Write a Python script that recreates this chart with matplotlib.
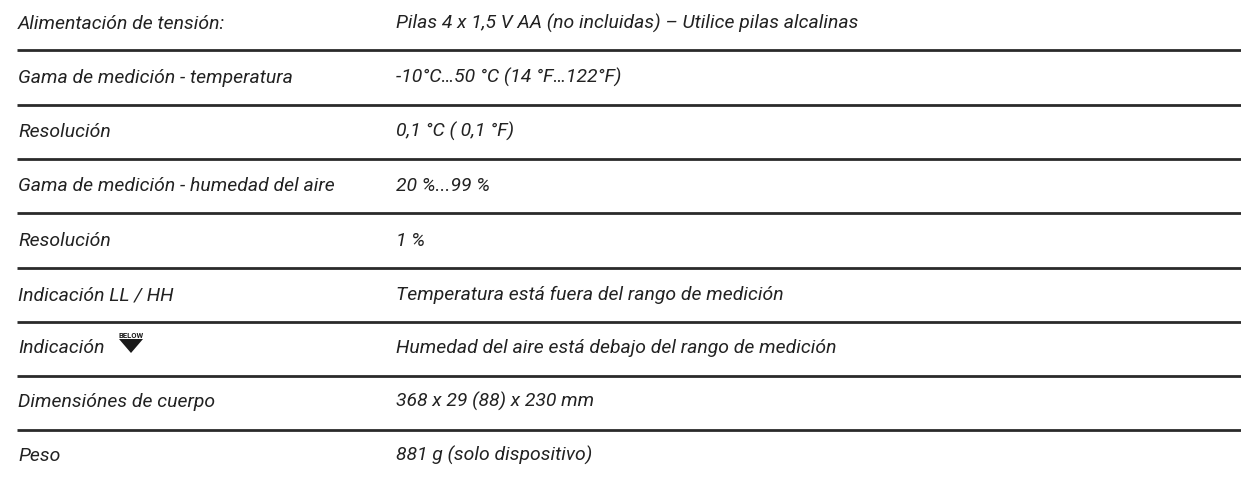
import matplotlib
matplotlib.use("Agg")
import matplotlib.pyplot as plt

labels = ["Alimentación de tensión:", "Gama de medición - temperatura", "Resolución",
          "Gama de medición - humedad del aire", "Resolución", "Indicación LL / HH",
          "Indicación", "Dimensiónes de cuerpo", "Peso"]
values = ["Pilas 4 x 1,5 V AA (no incluidas) – Utilice pilas alcalinas",
          "-10°C…50 °C (14 °F…122°F)", "0,1 °C ( 0,1 °F)", "20 %...99 %", "1 %",
          "Temperatura está fuera del rango de medición",
          "Humedad del aire está debajo del rango de medición",
          "368 x 29 (88) x 230 mm", "881 g (solo dispositivo)"]
baselines = [29, 83, 137, 191, 246, 300, 353, 407, 461]
rule_y = [50, 104.5, 159, 213, 268, 321.5, 376, 430]

fig = plt.figure(figsize=(12.41, 4.8), dpi=100)
ax = fig.add_axes([0, 0, 1, 1])
ax.set_xlim(0, 1241)
ax.set_ylim(480, 0)
ax.axis("off")
style = dict(family="Roboto", style="italic", fontsize=13.95, color="#222222", va="baseline")
for y, a, b in zip(baselines, labels, values):
    ax.text(18, y, a, **style)
    ax.text(396, y, b, **style)
for y in rule_y:
    ax.plot([17, 1241], [y, y], color="#2a2a2a", lw=2.0, solid_capstyle="butt")
ax.text(131, 335, "BELOW", family="Roboto", weight="bold", fontsize=5.5, ha="center", va="center", color="#1a1a1a")
ax.fill([119, 143, 131], [339, 339, 353], color="#1a1a1a", lw=0)
fig.savefig("out.png", dpi=100)
